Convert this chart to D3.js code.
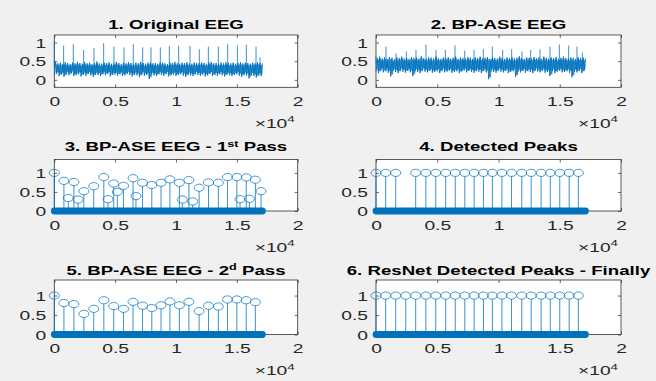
<!DOCTYPE html>
<html>
<head>
<meta charset="utf-8">
<script src="https://cdn.jsdelivr.net/npm/d3@7"></script>
<style>
  body { margin: 0; background: #f0f0f0; }
  svg { display: block; }
</style>
</head>
<body>
<div id="container"></div>
<script>
/* DATA */
const signalLength = 17100
const binSize = 200
const xTicks = [0, 5000, 10000, 15000, 20000]

// R-peak sample positions (shared by the stem plots)
const peakPos = [0, 790, 1610, 2430, 3240, 4070, 4880, 5690, 6470, 7250, 8010,
  8770, 9500, 10280, 11060, 11900, 12670, 13480, 14230, 15000, 15770, 16520]

// 1. original EEG: per-bin upper / lower envelope, plus spikes
const eeg1Hi = [0.48,0.44,0.46,0.43,0.47,0.45,0.42,0.46,0.44,0.48,
  0.45,0.43,0.47,0.44,0.46,0.42,0.45,0.49,0.44,0.43,
  0.46,0.45,0.47,0.43,0.44,0.48,0.45,0.42,0.46,0.44,
  0.47,0.45,0.43,0.46,0.44,0.48,0.45,0.43,0.46,0.47,
  0.44,0.45,0.43,0.47,0.46,0.44,0.42,0.46,0.45,0.48,
  0.44,0.43,0.46,0.45,0.47,0.44,0.43,0.46,0.45,0.44,
  0.47,0.45,0.43,0.46,0.48,0.44,0.45,0.43,0.46,0.44,
  0.47,0.45,0.44,0.46,0.43,0.45,0.47,0.44,0.46,0.45,
  0.43,0.46,0.44,0.47,0.45,0.44]
const eeg1Lo = [0.12,0.16,0.10,0.14,0.08,0.15,0.12,0.17,0.10,0.13,
  0.15,0.09,0.14,0.11,0.16,0.12,0.08,0.14,0.13,0.10,
  0.15,0.12,0.16,0.09,0.13,0.14,0.11,0.15,0.10,0.12,
  0.16,0.13,0.09,0.14,0.12,0.07,0.15,0.11,0.13,0.02,
  0.14,0.12,0.10,0.15,0.13,0.11,0.16,0.09,0.12,0.14,
  0.10,0.13,0.15,0.11,0.08,0.14,0.12,0.10,0.15,0.13,
  0.11,0.14,0.09,0.12,0.16,0.10,0.13,0.11,0.15,0.12,
  0.09,0.14,0.12,0.10,0.13,0.15,0.11,0.08,0.14,0.12,
  0.04,0.13,0.10,0.06,0.12,0.10]
const eeg1SpikePos = [0,767,1562,2411,3260,4055,4904,5726,6493,7260,7945,8712,
  9452,10219,11151,11918,12658,13479,14247,15041,15781,16575,16904]
const eeg1SpikeTop = [1.04,0.92,0.955,0.80,0.85,0.98,0.89,0.87,0.955,0.87,0.87,0.87,
  0.91,0.91,0.91,0.82,0.89,0.89,0.955,0.92,0.94,0.89,0.60]

// 2. BP-ASE EEG
const eeg2Hi = [0.58,0.62,0.57,0.60,0.56,0.61,0.59,0.55,0.60,0.58,
  0.62,0.57,0.59,0.56,0.61,0.58,0.60,0.57,0.63,0.58,
  0.56,0.60,0.59,0.57,0.62,0.58,0.56,0.60,0.58,0.61,
  0.57,0.59,0.62,0.56,0.60,0.58,0.57,0.61,0.59,0.56,
  0.60,0.58,0.62,0.57,0.59,0.61,0.56,0.60,0.58,0.57,
  0.62,0.59,0.56,0.60,0.58,0.61,0.57,0.59,0.63,0.58,
  0.56,0.60,0.59,0.57,0.61,0.58,0.60,0.56,0.62,0.59,
  0.57,0.60,0.58,0.61,0.56,0.59,0.62,0.58,0.57,0.60,
  0.59,0.56,0.61,0.58,0.60,0.57]
const eeg2Lo = [0.22,0.18,0.25,0.20,0.23,0.19,0.09,0.24,0.21,0.18,
  0.25,0.22,0.19,0.24,0.20,0.10,0.23,0.21,0.18,0.25,
  0.22,0.20,0.24,0.19,0.21,0.23,0.18,0.25,0.20,0.22,
  0.24,0.19,0.21,0.23,0.18,0.22,0.25,0.20,0.24,0.21,
  0.19,0.23,0.22,0.18,0.24,0.20,0.02,0.23,0.21,0.19,
  0.25,0.22,0.20,0.24,0.18,0.21,0.23,0.08,0.22,0.20,
  0.24,0.19,0.23,0.21,0.18,0.25,0.22,0.20,0.24,0.19,
  0.21,0.10,0.23,0.18,0.22,0.24,0.20,0.21,0.23,0.19,
  0.07,0.22,0.20,0.24,0.18,0.25]
const eeg2SpikePos = [0,816,1633,2476,3265,4082,4898,5660,6449,7238,8000,8762,
  9497,10340,11075,11918,12626,13388,14204,14966,15728,16408,16843]
const eeg2SpikeTop = [0.62,0.89,0.71,0.76,0.80,0.94,0.80,0.80,0.92,0.78,0.80,0.82,
  0.89,0.80,0.82,0.76,0.80,0.82,0.89,0.95,0.92,0.89,0.73]

// 3. first pass: values at peakPos, plus false peaks
const pass1Val = [1.0,0.79,0.76,0.52,0.65,0.89,0.72,0.66,0.86,0.74,0.68,
  0.74,0.83,0.74,0.81,0.61,0.75,0.74,0.89,0.89,0.88,0.82]
const falsePos = [1150,1945,4410,5180,6710,10520,11370,15260,16030,16990]
const falseVal = [0.34,0.30,0.31,0.50,0.39,0.30,0.25,0.31,0.32,0.52]

// 5. second pass
const pass2Val = [1.0,0.81,0.78,0.53,0.66,0.88,0.73,0.66,0.84,0.74,0.68,
  0.75,0.85,0.75,0.84,0.60,0.74,0.72,0.90,0.90,0.88,0.83]

// 4. detected peaks (one missed) and 6. ResNet detected peaks
const detectedPos = [0,790,1610,3240,4070,4880,5690,6470,7250,8010,8770,
  9500,10280,11060,11900,12670,13480,14230,15000,15770,16520]
const resnetPos = peakPos

/* LAYOUT */
const width = 656, height = 381
const sx = 1.48 // the picture is stretched sideways
const font = '"Liberation Sans", Arial, Helvetica, sans-serif'
const blue = "#0072BD"
const cols = [{left: 54.3, right: 297.7}, {left: 376, right: 621}]
const rows = [
  {top: 35, bottom: 87.3, ylim: [-0.2, 1.2], titleY: 28.5},
  {top: 159.5, bottom: 211, ylim: [0, 1.35], titleY: 151},
  {top: 280, bottom: 334.5, ylim: [0, 1.4], titleY: 274.5}
]

const panels = [
  {col: 0, row: 0, title: [["1. Original EEG"]], kind: "eeg", hi: eeg1Hi, lo: eeg1Lo, sp: eeg1SpikePos, st: eeg1SpikeTop, base: 0.3},
  {col: 1, row: 0, title: [["2. BP-ASE EEG"]], kind: "eeg", hi: eeg2Hi, lo: eeg2Lo, sp: eeg2SpikePos, st: eeg2SpikeTop, base: 0.4},
  {col: 0, row: 1, title: [["3. BP-ASE EEG - 1"], ["st", true], [" Pass"]], kind: "stem",
    pos: peakPos.concat(falsePos), val: pass1Val.concat(falseVal)},
  {col: 1, row: 1, title: [["4. Detected Peaks"]], kind: "stem", pos: detectedPos, val: detectedPos.map(() => 1)},
  {col: 0, row: 2, title: [["5. BP-ASE EEG - 2"], ["d", true], [" Pass"]], kind: "stem", pos: peakPos, val: pass2Val},
  {col: 1, row: 2, title: [["6. ResNet Detected Peaks - Finally"]], kind: "stem", pos: resnetPos, val: resnetPos.map(() => 1)}
]

const svg = d3.select("#container")
  .append("svg")
  .attr("width", width)
  .attr("height", height)
  .style("background-color", "#f0f0f0")
  .style("font-family", font)

panels.forEach(p => {
  const c = cols[p.col], r = rows[p.row]
  const x = d3.scaleLinear().domain([0, 20000]).range([c.left, c.right])
  const y = d3.scaleLinear().domain(r.ylim).range([r.bottom, r.top])
  const yTicks = [0, 0.5, 1]
  const g = svg.append("g")

  g.append("rect")
    .attr("x", c.left).attr("y", r.top)
    .attr("width", c.right - c.left).attr("height", r.bottom - r.top)
    .attr("fill", "white").attr("stroke", "#333").attr("stroke-width", 0.8)

  // ticks on all four sides, labels bottom & left
  const tickStyle = s => {
    s.select(".domain").remove()
    s.attr("color", "#262626").attr("font-family", font).attr("font-size", 13)
    s.selectAll("line").attr("stroke-width", 0.7)
  }
  g.append("g").attr("transform", `translate(0,${r.bottom})`)
    .call(d3.axisBottom(x).tickValues(xTicks).tickSizeInner(-3).tickSizeOuter(0).tickFormat(d => d / 1e4))
    .call(tickStyle)
    .call(s => s.selectAll("text").attr("y", 14).attr("dy", "0.35em").attr("transform", `scale(${sx},1)`))
  g.append("g").attr("transform", `translate(0,${r.top})`)
    .call(d3.axisTop(x).tickValues(xTicks).tickSizeInner(-3).tickSizeOuter(0).tickFormat(""))
    .call(tickStyle)
  g.append("g").attr("transform", `translate(${c.left},0)`)
    .call(d3.axisLeft(y).tickValues(yTicks).tickSizeInner(-3).tickSizeOuter(0).tickFormat(d3.format("")))
    .call(tickStyle)
    .call(s => s.selectAll("text").attr("x", -8 / sx).attr("dy", "0.35em").attr("transform", `scale(${sx},1)`))
  g.append("g").attr("transform", `translate(${c.right},0)`)
    .call(d3.axisRight(y).tickValues(yTicks).tickSizeInner(-3).tickSizeOuter(0).tickFormat(""))
    .call(tickStyle)

  if (p.kind === "eeg") {
    const pts = []
    p.hi.forEach((h, i) => {
      pts.push([i * binSize, p.lo[i]])
      pts.push([i * binSize + binSize / 2, h])
    })
    // dense core of the trace
    const bins = p.hi.map((h, i) => [i * binSize + binSize / 2, p.lo[i], h])
    g.append("path")
      .attr("d", d3.area().x(d => x(d[0])).y0(d => y(d[1] + 0.05)).y1(d => y(d[2] - 0.05)).curve(d3.curveStep)(bins))
      .attr("fill", blue).attr("opacity", 0.75)
    g.append("path")
      .attr("d", d3.line().x(d => x(d[0])).y(d => y(d[1]))(pts))
      .attr("fill", "none").attr("stroke", blue).attr("stroke-width", 0.9)
    g.selectAll(".spike")
      .data(p.sp.map((s, i) => [s, p.st[i]]))
      .join("line")
      .attr("class", "spike")
      .attr("x1", d => x(d[0])).attr("x2", d => x(d[0]))
      .attr("y1", y(p.base)).attr("y2", d => y(d[1]))
      .attr("stroke", blue).attr("stroke-width", 0.9).attr("opacity", 0.85)
  } else {
    const pts = p.pos.map((s, i) => [s, p.val[i]])
    g.selectAll(".stem")
      .data(pts)
      .join("line")
      .attr("class", "stem")
      .attr("x1", d => x(d[0])).attr("x2", d => x(d[0]))
      .attr("y1", y(0)).attr("y2", d => y(d[1]) + 3.6)
      .attr("stroke", blue).attr("stroke-width", 0.9).attr("opacity", 0.85)
    g.selectAll(".marker")
      .data(pts)
      .join("ellipse")
      .attr("class", "marker")
      .attr("cx", d => x(d[0])).attr("cy", d => y(d[1]))
      .attr("rx", 5).attr("ry", 3.6)
      .attr("fill", "none").attr("stroke", blue).attr("stroke-width", 0.9).attr("opacity", 0.8)
    // zero-valued samples: markers merge into a thick band
    g.append("line")
      .attr("x1", x(0)).attr("x2", x(signalLength))
      .attr("y1", y(0)).attr("y2", y(0))
      .attr("stroke", blue).attr("stroke-width", 6.8).attr("stroke-linecap", "round")
  }

  // title
  const t = g.append("text")
    .attr("transform", `translate(${(c.left + c.right) / 2},${r.titleY}) scale(${sx},1)`)
    .attr("text-anchor", "middle")
    .attr("font-size", 12.6).attr("font-weight", "bold").attr("fill", "#000")
  p.title.forEach(([txt, sup]) => {
    t.append("tspan").text(txt)
      .attr("font-size", sup ? 8.5 : null)
      .attr("dy", sup ? -4.5 : (t.selectAll("tspan").size() > 1 ? 4.5 : 0))
  })

  // x10^4 exponent label
  const e = g.append("text")
    .attr("transform", `translate(${c.right - 3},${r.bottom + 40.5}) scale(${sx},1)`)
    .attr("text-anchor", "end").attr("font-size", 13).attr("fill", "#262626")
  e.append("tspan").text("\u00d710")
  e.append("tspan").text("4").attr("font-size", 9).attr("dy", -5.5)
})
</script>
</body>
</html>
